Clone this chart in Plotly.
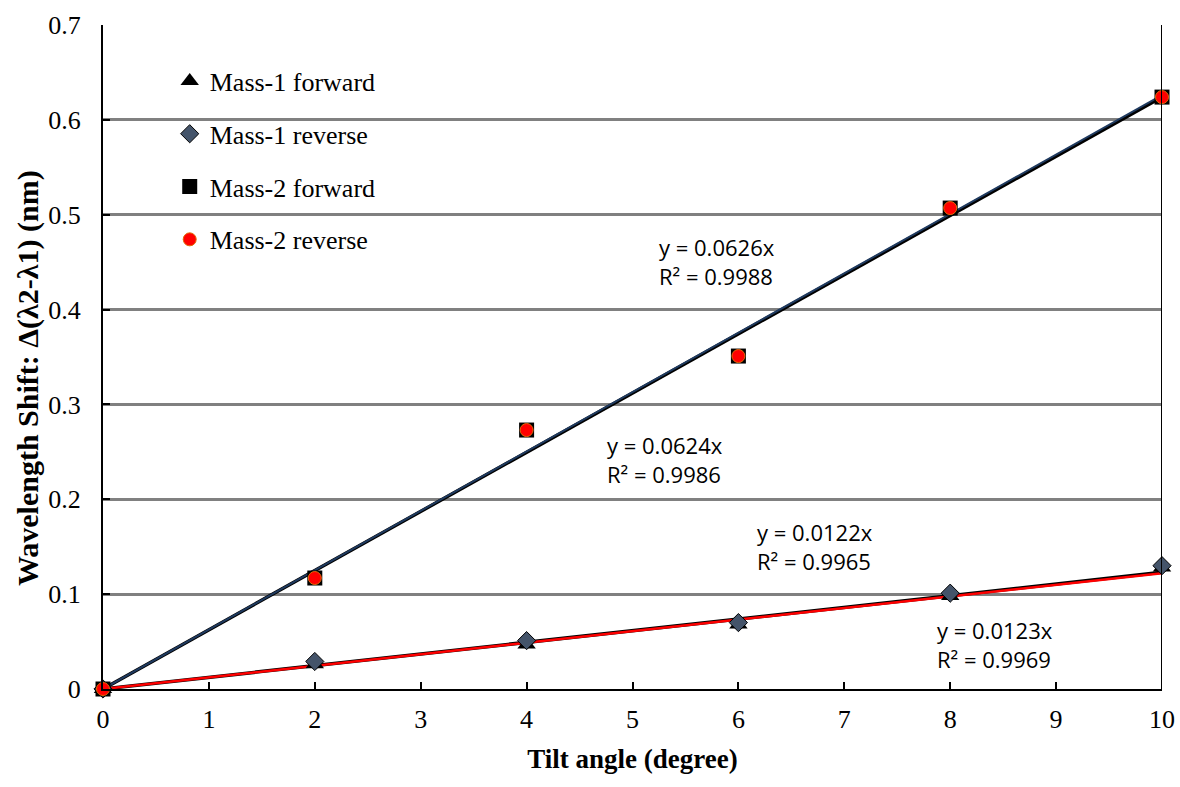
import plotly.graph_objects as go

angles = [0, 2, 4, 6, 8, 10]
m1_forward = [0, 0.026, 0.047, 0.068, 0.098, 0.128]
m1_reverse = [0, 0.029, 0.051, 0.070, 0.101, 0.130]
m2_forward = [0, 0.117, 0.273, 0.351, 0.507, 0.624]
m2_reverse = [0, 0.117, 0.273, 0.351, 0.507, 0.624]

fit_x = [0, 10]
slopes = {"m1f": 0.0123, "m1r": 0.0122, "m2f": 0.0624, "m2r": 0.0626}
fit_labels = [
    ("y = 0.0626x<br>R² = 0.9988", 5.23, 0.451),
    ("y = 0.0624x<br>R² = 0.9986", 4.74, 0.242),
    ("y = 0.0122x<br>R² = 0.9965", 6.16, 0.150),
    ("y = 0.0123x<br>R² = 0.9969", 7.86, 0.047),
]

serif = "Liberation Serif"
fig = go.Figure()

# trendlines
fig.add_trace(go.Scatter(x=fit_x, y=[slopes["m2f"] * v for v in fit_x], mode="lines",
                         line=dict(color="black", width=3.5), showlegend=False, hoverinfo="skip"))
fig.add_trace(go.Scatter(x=fit_x, y=[slopes["m2r"] * v for v in fit_x], mode="lines",
                         line=dict(color="#1F3A5F", width=2), showlegend=False, hoverinfo="skip"))
fig.add_trace(go.Scatter(x=fit_x, y=[slopes["m1f"] * v for v in fit_x], mode="lines",
                         line=dict(color="black", width=3.5), showlegend=False, hoverinfo="skip"))
fig.add_trace(go.Scatter(x=fit_x, y=[slopes["m1r"] * v for v in fit_x], mode="lines",
                         line=dict(color="red", width=2.5), showlegend=False, hoverinfo="skip"))

fig.add_trace(go.Scatter(x=angles, y=m1_forward, mode="markers", name="Mass-1 forward",
                         legendgroup="a", cliponaxis=False,
                         marker=dict(symbol="triangle-up", size=16, color="black")))
fig.add_trace(go.Scatter(x=angles, y=m1_reverse, mode="markers", name="Mass-1 reverse",
                         legendgroup="b", cliponaxis=False,
                         marker=dict(symbol="diamond", size=14, color="#44546A",
                                     line=dict(color="black", width=1))))
fig.add_trace(go.Scatter(x=angles, y=m2_forward, mode="markers", name="Mass-2 forward",
                         legendgroup="c", cliponaxis=False,
                         marker=dict(symbol="square", size=15, color="black")))
fig.add_trace(go.Scatter(x=angles, y=m2_reverse, mode="markers", name="Mass-2 reverse",
                         legendgroup="d", cliponaxis=False,
                         marker=dict(symbol="circle", size=13, color="red",
                                     line=dict(color="#E36C09", width=1))))

for text, x, y in fit_labels:
    fig.add_annotation(x=x, y=y, text=text, showarrow=False, xanchor="left",
                       yanchor="middle", align="left",
                       font=dict(family="Open Sans", size=22, color="black"))

# y-axis title
fig.add_annotation(xref="paper", yref="paper", x=-0.071, y=0.468,
                   text="<b>Wavelength Shift: Δ(λ2-λ1) (nm)</b>", textangle=-90,
                   showarrow=False, xanchor="center", yanchor="middle",
                   font=dict(family=serif, size=30, color="black"))

fig.update_layout(
    width=1180, height=787,
    margin=dict(l=103, r=18, t=25, b=98, autoexpand=False),
    paper_bgcolor="white", plot_bgcolor="white",
    font=dict(family=serif, size=26, color="black"),
    legend=dict(x=0.063, y=0.951, xanchor="left", yanchor="top",
                bgcolor="rgba(0,0,0,0)", tracegroupgap=16,
                font=dict(family=serif, size=26), itemwidth=30),
    xaxis=dict(range=[0, 10], tick0=0, dtick=1, showgrid=False, automargin=False,
               showline=True, linecolor="black", linewidth=2, mirror=False,
               ticks="inside", ticklen=7, tickwidth=2, tickcolor="black",
               zeroline=False, ticklabelstandoff=6,
               title=dict(text="<b>Tilt angle (degree)</b>", font=dict(size=27), standoff=16)),
    yaxis=dict(range=[0, 0.7], tick0=0, dtick=0.1, showgrid=True, automargin=False,
               gridcolor="#808080", gridwidth=2.5,
               showline=True, linecolor="black", linewidth=2,
               ticks="inside", ticklen=7, tickwidth=2, tickcolor="black",
               zeroline=False, tickformat="~g", ticklabelstandoff=15),
)

# right border line
fig.add_shape(type="line", xref="x", yref="paper", x0=10, x1=10, y0=0, y1=1,
              line=dict(color="black", width=2))

fig.write_html("out.html")
